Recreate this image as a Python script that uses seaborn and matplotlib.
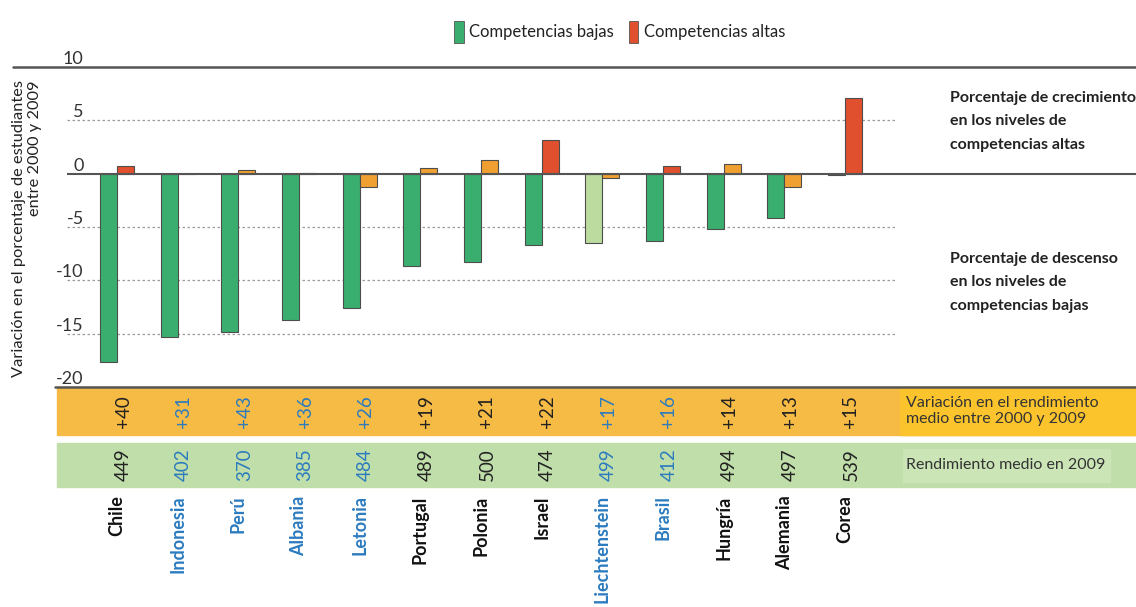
import matplotlib
matplotlib.use('Agg')
import matplotlib.pyplot as plt
import matplotlib.transforms as mtransforms
from matplotlib.patches import Patch, Rectangle
import seaborn as sns
import pandas as pd

# datos
paises = ['Chile', 'Indonesia', 'Perú', 'Albania', 'Letonia', 'Portugal', 'Polonia',
          'Israel', 'Liechtenstein', 'Brasil', 'Hungría', 'Alemania', 'Corea']
bajas = [-17.7, -15.3, -14.8, -13.75, -12.6, -8.7, -8.3, -6.7, -6.5, -6.3, -5.2, -4.2, -0.15]
altas = [0.7, 0.0, 0.3, 0.1, -1.25, 0.55, 1.3, 3.2, -0.45, 0.7, 0.95, -1.25, 7.1]
bajas_signif = [True, True, True, True, True, True, True, True, False, True, True, True, True]
altas_signif = [True, False, False, False, False, False, False, True, False, True, False, False, True]
variacion = [40, 31, 43, 36, 26, 19, 21, 22, 17, 16, 14, 13, 15]
rendimiento = [449, 402, 370, 385, 484, 489, 500, 474, 499, 412, 494, 497, 539]
no_ocde = ['Indonesia', 'Perú', 'Albania', 'Letonia', 'Liechtenstein', 'Brasil']
y_ticks = [10, 5, 0, -5, -10, -15, -20]

sns.set_theme(style='white')
plt.rcParams['font.family'] = ['Lato', 'DejaVu Sans']

VERDE, VERDE_CLARO = '#3aae6e', '#bcdc9f'
ROJO, NARANJA = '#e1502e', '#f0a030'
AZUL = '#2b7bbf'
W, H = 1136, 607

df = pd.DataFrame({
    'pais': paises * 2,
    'valor': bajas + altas,
    'nivel': ['Competencias bajas'] * len(paises) + ['Competencias altas'] * len(paises),
})

fig = plt.figure(figsize=(W / 100, H / 100), dpi=100)
ax = fig.add_axes([67 / W, 1 - 387 / H, 1 - 67 / W, 320 / H])
ax.patch.set_alpha(0)

sns.barplot(data=df, x='pais', y='valor', hue='nivel', order=paises,
            hue_order=['Competencias bajas', 'Competencias altas'],
            width=0.56, gap=0, legend=False, ax=ax,
            edgecolor='#4d4d4d', linewidth=0.8)

for bar, sig in zip(ax.containers[0], bajas_signif):
    bar.set_facecolor(VERDE if sig else VERDE_CLARO)
for bar, sig in zip(ax.containers[1], altas_signif):
    bar.set_facecolor(ROJO if sig else NARANJA)

ax.set_ylim(-20, 10)
ax.set_xlim(-0.824, 16.8)
for s in ax.spines.values():
    s.set_visible(False)

# rejilla y lineas
for v in [5, -5, -10, -15]:
    ax.axhline(v, xmin=0, xmax=0.776, color='#9a9a9a', lw=0.9, ls=(0, (2, 2)), zorder=0)
ax.axhline(0, color='#555555', lw=1.5, zorder=3)
ax.axhline(10, xmin=(13 - 67) / 1069, xmax=1, color='#555555', lw=1.8, clip_on=False)
ax.axhline(-20, xmin=(55 - 67) / 1069, xmax=1, color='#555555', lw=1.8, clip_on=False, zorder=5)

ax.set_yticks(y_ticks)
ax.set_yticklabels([str(t) for t in y_ticks])
ax.tick_params(axis='y', length=0, pad=-12, labelsize=13, colors='#333333')
for lab in ax.get_yticklabels():
    lab.set_va('bottom')

ax.set_xlabel('')
ax.set_ylabel('')
ax.set_xticks(range(len(paises)))
ax.set_xticklabels(paises, rotation=90, fontweight='bold', fontsize=13, va='top')
ax.tick_params(axis='x', length=0, pad=78)
for lab in ax.get_xticklabels():
    lab.set_color(AZUL if lab.get_text() in no_ocde else '#111111')

# bandas de la tabla
def fy(px):
    return 1 - px / H

bandas = [((57, 435), 1, 48, '#f6bb45'), ((900, 435), 1, 48, '#fcc42c'),
          ((57, 487), 1, 44, '#bfdea9'), ((903, 482), 207 / W, 33, '#cbe5b7')]
for (x0, y0), bw, bh, col in bandas:
    fig.patches.append(Rectangle((x0 / W, fy(y0)), bw, bh / H, transform=fig.transFigure,
                                 color=col, zorder=-1))

tr = mtransforms.blended_transform_factory(ax.transData, fig.transFigure)
for i, p in enumerate(paises):
    c = AZUL if p in no_ocde else '#222222'
    ax.text(i + 0.1, fy(412), f'+{variacion[i]}', rotation=90, ha='center', va='center',
            fontsize=13.5, color=c, transform=tr, clip_on=False, zorder=6)
    ax.text(i + 0.1, fy(465), str(rendimiento[i]), rotation=90, ha='center', va='center',
            fontsize=13.5, color=c, transform=tr, clip_on=False, zorder=6)

fig.text(906 / W, fy(411), 'Variación en el rendimiento\nmedio entre 2000 y 2009',
         ha='left', va='center', fontsize=11.5, color='#333333', linespacing=1.25)
fig.text(906 / W, fy(465), 'Rendimiento medio en 2009',
         ha='left', va='center', fontsize=11.5, color='#333333')

# anotaciones a la derecha
fig.text(950 / W, fy(91), 'Porcentaje de crecimiento\nen los niveles de\ncompetencias altas',
         ha='left', va='top', fontsize=11.5, fontweight='bold', color='#222222', linespacing=1.85)
fig.text(950 / W, fy(252), 'Porcentaje de descenso\nen los niveles de\ncompetencias bajas',
         ha='left', va='top', fontsize=11.5, fontweight='bold', color='#222222', linespacing=1.85)

# eje y
fig.text(27 / W, fy(80), 'Variación en el porcentaje de estudiantes\nentre 2000 y 2009',
         rotation=90, ha='center', va='top', multialignment='right',
         fontsize=11.8, color='#222222', linespacing=1.2)

# leyenda
handles = [Patch(facecolor=VERDE, edgecolor='#555555', lw=0.6, label='Competencias bajas'),
           Patch(facecolor=ROJO, edgecolor='#555555', lw=0.6, label='Competencias altas')]
fig.legend(handles=handles, loc='center', bbox_to_anchor=(620 / W, fy(32)), ncol=2,
           frameon=False, fontsize=12, handlelength=0.55, handleheight=1.7,
           handletextpad=0.35, columnspacing=0.9, labelcolor='#222222')

fig.savefig('out.png', dpi=100)
